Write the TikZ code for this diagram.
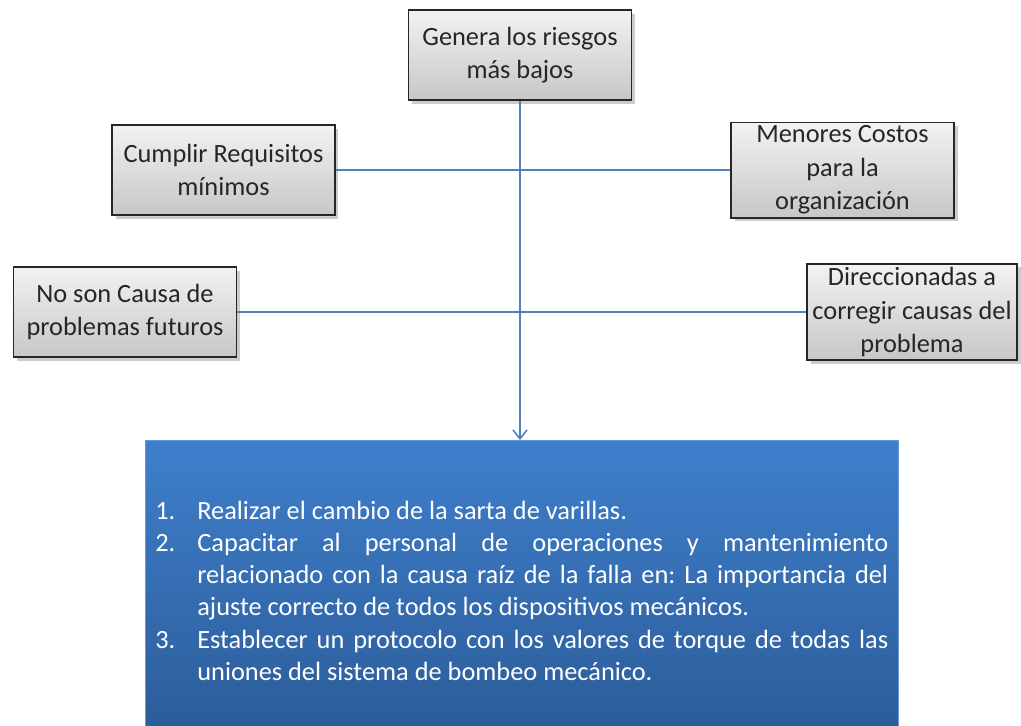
\documentclass[tikz,border=0pt]{standalone}
\usepackage{fontspec}
\setmainfont{Carlito}
\usepackage{enumitem}
\usetikzlibrary{arrows.meta, positioning, shadows}

\definecolor{linkblue}{HTML}{4F81BD}
\definecolor{panetop}{HTML}{3F7FCC}
\definecolor{panebot}{HTML}{2C5D9A}

\begin{document}
\frenchspacing
\begin{tikzpicture}[
  x=0.02cm, y=-0.02cm,
  >=Latex,
  greybox/.style={draw=black!85, line width=0.9pt, top color=black!5,
                  bottom color=black!22, align=center, text=black!85,
                  minimum width=4.46cm, minimum height=1.8cm, inner sep=2pt,
                  font=\fontsize{15}{19}\selectfont,
                  drop shadow={shadow xshift=2pt, shadow yshift=-2pt,
                               fill=black!40, opacity=0.5}},
  link/.style={draw=linkblue, line width=0.9pt},
  arrow/.style={link, -{Straight Barb[length=5pt, width=8pt]}}
]
\useasboundingbox (0,0) rectangle (1021,725);

%% -- Panneau des actions -----------------------------------------
\shade[top color=panetop, bottom color=panebot, draw=panetop!80!white]
  (145,440) rectangle (898,726);
\coordinate (panetop) at (520,440);
\node[anchor=north west, text width=14.66cm, align=justify, text=white,
  font=\fontsize{15}{18.3}\selectfont, inner sep=0pt] (actions) at (155,487) {%
  \begin{enumerate}[label=\arabic*., leftmargin=0.84cm, labelwidth=0.84cm,
      labelsep=0pt, align=left, topsep=0pt, itemsep=0pt, parsep=0pt,
      partopsep=0pt]
  \item Realizar el cambio de la sarta de varillas.
  \item Capacitar al personal de operaciones y mantenimiento\linebreak
    relacionado con la causa raíz de la falla en: La importancia del\linebreak
    ajuste correcto de todos los dispositivos mecánicos.
  \item Establecer un protocolo con los valores de torque de todas las\linebreak
    uniones del sistema de bombeo mecánico.
  \end{enumerate}};

%% -- Cajas ---------------------------------------------------------
\node[greybox] (riesgos) at (520,55) {Genera los riesgos\\más bajos};
\node[greybox] (requisitos) at (223.5,170) {Cumplir Requisitos\\mínimos};
\node[greybox] (costos) at (842.5,170) {Menores Costos\\para la\\organización};
\node[greybox] (futuros) at (125,312) {No son Causa de\\problemas futuros};
\node[greybox, minimum width=4.2cm] (causas) at (912,312)
  {Direccionadas a\\corregir causas del\\problema};

%% -- Liens -----------------------------------------------------------
\draw[arrow] (riesgos.south) -- (panetop);
\draw[link] (requisitos.east) -- (costos.west);
\draw[link] (futuros.east) -- (causas.west);

\end{tikzpicture}
\end{document}
